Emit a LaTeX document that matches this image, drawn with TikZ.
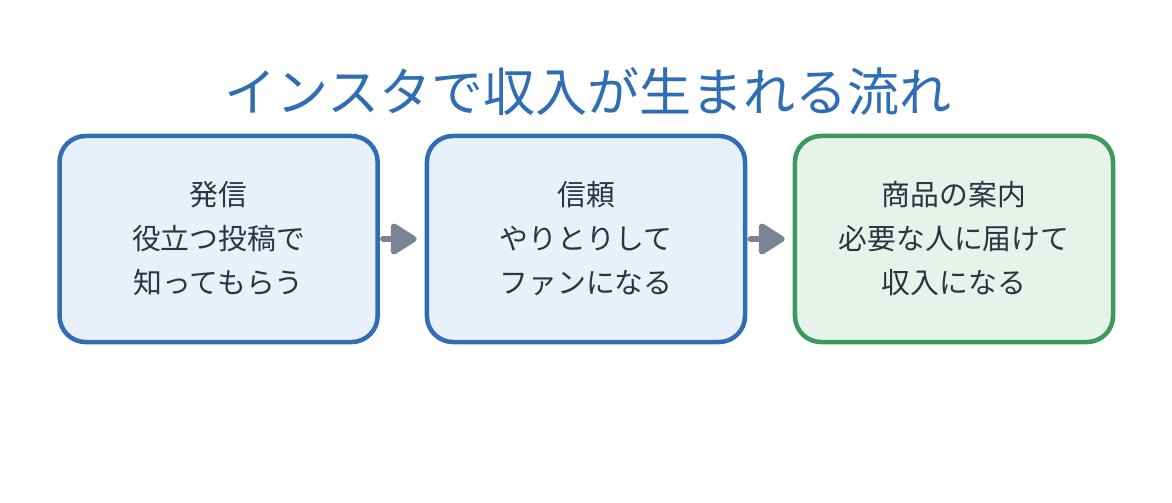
\documentclass[tikz,border=0pt]{standalone}
\usepackage{fontspec}
\setmainfont{Noto Sans CJK JP}
\usepackage{tikz}
\usetikzlibrary{arrows.meta}

\begin{document}
\begin{tikzpicture}[x=0.025cm, y=0.025cm]

% Colori
\definecolor{colBlu}{HTML}{2F6DB5}
\definecolor{colBluChiaro}{HTML}{E8F0FA}
\definecolor{colVerde}{HTML}{3A9A5B}
\definecolor{colVerdeChiaro}{HTML}{E6F3EA}
\definecolor{colFreccia}{HTML}{7B8494}
\definecolor{colTesto}{HTML}{2B3440}

% Stili
\tikzset{
  passo/.style={rectangle, rounded corners=0.65cm, line width=3.2pt,
    minimum width=7.95cm, minimum height=5.15cm, align=center,
    text=colTesto, font=\fontsize{20.5pt}{31.3pt}\selectfont},
  freccia/.style={draw=colFreccia, line width=4.3pt, line cap=round,
    -{Triangle[length=0.72cm, width=0.86cm, round]},
    shorten <=0.08cm, shorten >=0.2cm}
}

\useasboundingbox (0,0) rectangle (1172,502);

% Titolo
\node[font=\fontsize{37pt}{44pt}\selectfont, text=colBlu] (titolo) at (588,410)
  {インスタで収入が生まれる流れ};

% Riquadri
\node[passo, draw=colBlu, fill=colBluChiaro] (hasshin) at (218.6,263)
  {発信\\役立つ投稿で\\知ってもらう};
\node[passo, draw=colBlu, fill=colBluChiaro] (shinrai) at (586,263)
  {信頼\\やりとりして\\ファンになる};
\node[passo, draw=colVerde, fill=colVerdeChiaro] (annai) at (954,263)
  {商品の案内\\必要な人に届けて\\収入になる};

% Frecce
\draw[freccia] (hasshin) -- (shinrai);
\draw[freccia] (shinrai) -- (annai);

\end{tikzpicture}
\end{document}
